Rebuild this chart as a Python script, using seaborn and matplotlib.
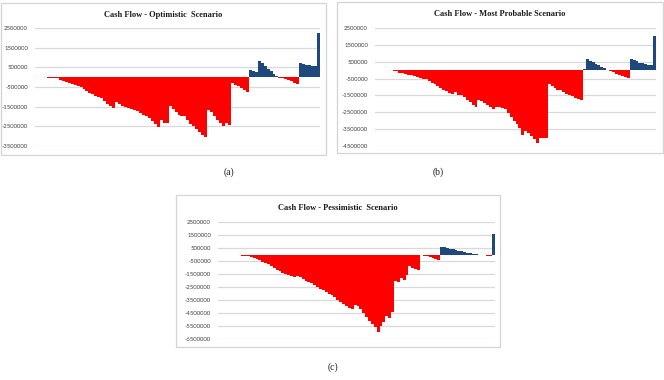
import numpy as np
import pandas as pd
import matplotlib.pyplot as plt
import seaborn as sns
from matplotlib.patches import Rectangle

sns.set_style("whitegrid")

# Cash flow per period (thousands)
optimistic = [
    0, -5, -10, -15, -20, -30, -40, -60, -120, -200,
    -250, -300, -350, -400, -450, -500, -600, -700, -800, -850,
    -950, -1000, -1050, -1200, -1350, -1450, -1550, -1250, -1350, -1450,
    -1500, -1550, -1600, -1650, -1700, -1800, -1900, -2000, -2100, -2250,
    -2400, -2550, -2200, -2350, -2350, -1450, -1600, -1750, -1900, -2000,
    -1950, -2200, -2400, -2500, -2650, -2800, -2950, -3050, -1650, -1750,
    -2000, -2200, -2350, -2500, -2350, -2450, -300, -400, -450, -550,
    -650, -750, 370, 300, 250, 800, 700, 550, 420, 300,
    150, 50, -20, -50, -100, -150, -220, -280, -350, 700,
    660, 620, 600, 580, 570, 2250,
]
most_probable = [
    0, 0, -5, -10, -15, -20, -30, -80, -150, -180,
    -220, -260, -300, -350, -400, -450, -500, -550, -650, -750,
    -850, -950, -1050, -1150, -1250, -1350, -1400, -1300, -1450, -1450,
    -1600, -1750, -1900, -2050, -2200, -1750, -1850, -1950, -2050, -2200,
    -2300, -2200, -2200, -2250, -2300, -2550, -2800, -3000, -3200, -3450,
    -3850, -3600, -3750, -3900, -4100, -4350, -4000, -4050, -4000, -800,
    -950, -1050, -1150, -1200, -1300, -1400, -1500, -1550, -1650, -1720,
    -1800, 50, 650, 570, 480, 380, 300, 200, 100, 20,
    -50, -120, -200, -270, -330, -400, -450, 650, 600, 520,
    450, 400, 350, 320, 300, 2000,
]
pessimistic = [
    0, -10, -10, -20, -20, -30, -40, -50, -80, -120,
    -150, -220, -300, -380, -450, -550, -620, -750, -900, -1050,
    -1180, -1300, -1400, -1500, -1600, -1650, -1700, -1680, -1750, -1850,
    -2000, -2100, -2200, -2350, -2500, -2620, -2720, -2850, -3000, -3150,
    -3300, -3500, -3650, -3800, -3950, -4100, -4200, -3850, -3950, -4200,
    -4500, -4800, -5100, -5350, -5600, -5950, -5500, -5200, -4750, -4850,
    -4400, -2000, -2100, -1800, -1950, -1600, -900, -1000, -1100, -1200,
    -20, -80, -150, -220, -300, -380, -430, 600, 550, 500,
    450, 400, 350, 300, 250, 200, 150, 100, 60, 20,
    -20, -40, -60, -80, -100, 1600,
]

titles = ["Cash Flow - Optimistic  Scenario",
          "Cash Flow - Most Probable Scenario",
          "Cash Flow - Pessimistic  Scenario"]
captions = ["(a)", "(b)", "(c)"]
y_ticks = [
    list(range(-3500000, 2500001, 1000000)),
    list(range(-4500000, 2500001, 1000000)),
    list(range(-6500000, 2500001, 1000000)),
]

W, H = 664, 380
fig = plt.figure(figsize=(W / 100, H / 100), dpi=100)


def fx(px):
    return px / W


def fy(py):
    return 1 - py / H


# plot area boxes in pixels: left, top, right, bottom
plot_boxes = [(35, 28, 320, 146), (375, 28, 656, 146), (218, 222, 495, 339)]
frames = [(1, 3, 326, 155), (337, 2, 663, 153), (176, 195, 500, 347)]
title_y = [15, 14, 208]
caption_pos = [(229, 172), (438, 172), (333, 367)]

series = [optimistic, most_probable, pessimistic]

for k in range(3):
    l, t, r, b = plot_boxes[k]
    ax = fig.add_axes([fx(l), fy(b), fx(r - l), (b - t) / H])
    vals = np.array(series[k]) * 1000
    df = pd.DataFrame({
        "period": np.arange(len(vals)),
        "cash": vals,
        "sign": np.where(vals >= 0, "pos", "neg"),
    })
    sns.barplot(data=df, x="period", y="cash", hue="sign",
                palette={"neg": "#FF0000", "pos": "#1F497D"},
                saturation=1, width=1.0, dodge=False, errorbar=None,
                legend=False, linewidth=0, antialiased=False, ax=ax)
    ax.set_xlim(-0.5, len(vals) - 0.5)
    ax.set_ylim(y_ticks[k][0], y_ticks[k][-1])
    ax.set_yticks(y_ticks[k])
    ax.set_yticklabels([str(v) for v in y_ticks[k]], fontsize=4.3,
                       color="#404040", family="Lato")
    ax.tick_params(axis="y", length=0, pad=5)
    ax.set_xticks([])
    ax.set_xlabel("")
    ax.set_ylabel("")
    ax.yaxis.grid(True, color="#d9d9d9", linewidth=0.9)
    ax.xaxis.grid(False)
    ax.set_facecolor("none")
    for s in ax.spines.values():
        s.set_visible(False)

    fl, ft, fr, fb = frames[k]
    fig.add_artist(Rectangle((fx(fl), fy(fb)), fx(fr - fl), (fb - ft) / H,
                             transform=fig.transFigure, fill=False,
                             edgecolor="#d4d4d4", linewidth=0.9))
    fig.text(fx((fl + fr) / 2), fy(title_y[k]), titles[k], ha="center",
             va="center", fontsize=6, fontweight="bold",
             family="Liberation Serif", color="#1a1a1a")
    cx, cy = caption_pos[k]
    fig.text(fx(cx), fy(cy), captions[k], ha="center", va="center",
             fontsize=7, family="Liberation Serif", color="#222222")

plt.savefig("out.png", dpi=100)
